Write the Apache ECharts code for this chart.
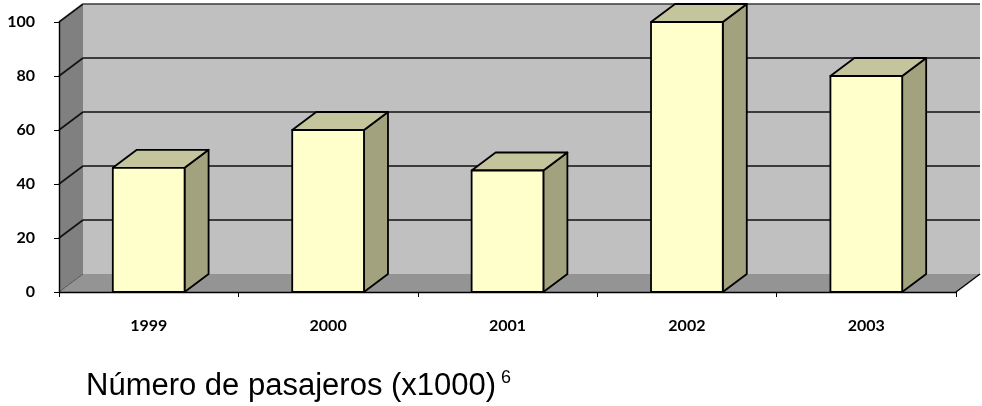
<!DOCTYPE html>
<html>
<head>
<meta charset="utf-8">
<script src="https://cdn.jsdelivr.net/npm/echarts@6/dist/echarts.min.js"></script>
<style>
  html, body { margin: 0; padding: 0; background: #ffffff; }
  #chart { width: 982px; height: 406px; }
</style>
</head>
<body>
<div id="chart"></div>
<script>
// Passenger counts per year (thousands)
const years = ['1999', '2000', '2001', '2002', '2003'];
const passengers = [46, 60, 45, 100, 80];
const yTicks = [0, 20, 40, 60, 80, 100];

// Oblique projection offset used for the depth of walls and columns
const DX = 24;
const DY = 18;

const COLORS = {
  backWall: '#c0c0c0',
  sideWall: '#808080',
  floor: '#949494',
  grid: '#111111',
  barFront: '#ffffcc',
  barTop: '#c5c59d',
  barSide: '#a2a27f'
};

const chart = echarts.init(document.getElementById('chart'), null, { renderer: 'canvas' });

// Walls, floor and gridlines of the 3D box
function renderScene(params, api) {
  const cs = params.coordSys;
  const x0 = cs.x, x1 = cs.x + cs.width;
  const yb = api.coord([0, 0])[1];
  const yt = api.coord([0, yTicks[yTicks.length - 1]])[1];
  const children = [];
  children.push({
    type: 'polygon',
    shape: { points: [[x0 + DX, yt - DY], [x1 + DX, yt - DY], [x1 + DX, yb - DY], [x0 + DX, yb - DY]] },
    style: { fill: COLORS.backWall }
  });
  children.push({
    type: 'polygon',
    shape: { points: [[x0, yt], [x0 + DX, yt - DY], [x0 + DX, yb - DY], [x0, yb]] },
    style: { fill: COLORS.sideWall }
  });
  children.push({
    type: 'polygon',
    shape: { points: [[x0, yb], [x0 + DX, yb - DY], [x1 + DX, yb - DY], [x1, yb]] },
    style: { fill: COLORS.floor }
  });
  yTicks.forEach(function (v) {
    const y = api.coord([0, v])[1];
    children.push({
      type: 'line',
      shape: { x1: x0, y1: y, x2: x0 + DX, y2: y - DY },
      style: { stroke: v === 0 ? '#555555' : COLORS.grid, lineWidth: v === 0 ? 1 : 1.6 }
    });
    if (v > 0) {
      children.push({
        type: 'line',
        shape: { x1: x0 + DX, y1: y - DY, x2: x1 + DX, y2: y - DY },
        style: { stroke: v === 100 ? '#3a3a3a' : COLORS.grid, lineWidth: 1.6 }
      });
    }
  });
  children.push({
    type: 'line',
    shape: { x1: x1, y1: yb, x2: x1 + DX, y2: yb - DY },
    style: { stroke: '#000000', lineWidth: 1.4 }
  });
  return { type: 'group', children: children };
}

// One prism per year: side, top and front faces
function renderBar(params, api) {
  const cat = api.value(0);
  const val = api.value(1);
  const top = api.coord([cat, val]);
  const base = api.coord([cat, 0]);
  const band = api.size([1, 0])[0];
  const w = band / 2.5;
  const xl = top[0] - w / 2, xr = top[0] + w / 2;
  const yt = top[1], yb = base[1];
  const edge = { stroke: '#000000', lineWidth: 1.8, lineJoin: 'round' };
  return {
    type: 'group',
    children: [
      {
        type: 'polygon',
        shape: { points: [[xr, yt], [xr + DX, yt - DY], [xr + DX, yb - DY], [xr, yb]] },
        style: Object.assign({ fill: COLORS.barSide }, edge)
      },
      {
        type: 'polygon',
        shape: { points: [[xl, yt], [xl + DX, yt - DY], [xr + DX, yt - DY], [xr, yt]] },
        style: Object.assign({ fill: COLORS.barTop }, edge)
      },
      {
        type: 'rect',
        shape: { x: xl, y: yt, width: w, height: yb - yt },
        style: Object.assign({ fill: COLORS.barFront }, edge)
      }
    ]
  };
}

const labelFont = {
  fontFamily: 'Lato, "Open Sans", sans-serif',
  fontWeight: 'bold',
  fontSize: 16,
  color: '#000000'
};

chart.setOption({
  animation: false,
  backgroundColor: '#ffffff',
  grid: { left: 59, right: 26, top: 22, bottom: 114, containLabel: false },
  xAxis: {
    type: 'category',
    data: years,
    boundaryGap: true,
    z: 5,
    axisLine: { show: true, lineStyle: { color: '#000000', width: 1.4 } },
    axisTick: { show: true, length: 5, lineStyle: { color: '#000000', width: 1 } },
    axisLabel: Object.assign({ margin: 26 }, labelFont),
    splitLine: { show: false }
  },
  yAxis: {
    type: 'value',
    min: 0,
    max: 100,
    interval: 20,
    z: 5,
    axisLine: { show: true, lineStyle: { color: '#000000', width: 1.4 } },
    axisTick: { show: true, length: 5, lineStyle: { color: '#000000', width: 1 } },
    axisLabel: Object.assign({ margin: 24 }, labelFont),
    splitLine: { show: false }
  },
  graphic: [
    {
      type: 'text',
      x: 86,
      y: 369,
      style: {
        text: '{t|Número de pasajeros (x1000)}{s| 6}',
        rich: {
          t: { fontFamily: '"Liberation Sans", Arial, sans-serif', fontSize: 31, color: '#000000', lineHeight: 34 },
          s: { fontFamily: '"Liberation Sans", Arial, sans-serif', fontSize: 18, color: '#000000', verticalAlign: 'top', lineHeight: 34 }
        }
      }
    }
  ],
  series: [
    {
      type: 'custom',
      name: 'scene',
      z: 1,
      silent: true,
      clip: false,
      renderItem: renderScene,
      data: [[0, 0]],
      encode: { x: 0, y: 1 }
    },
    {
      type: 'custom',
      name: 'Número de pasajeros',
      z: 2,
      clip: false,
      renderItem: renderBar,
      data: years.map(function (y, i) { return [i, passengers[i]]; }),
      encode: { x: 0, y: 1 }
    }
  ]
});
</script>
</body>
</html>
